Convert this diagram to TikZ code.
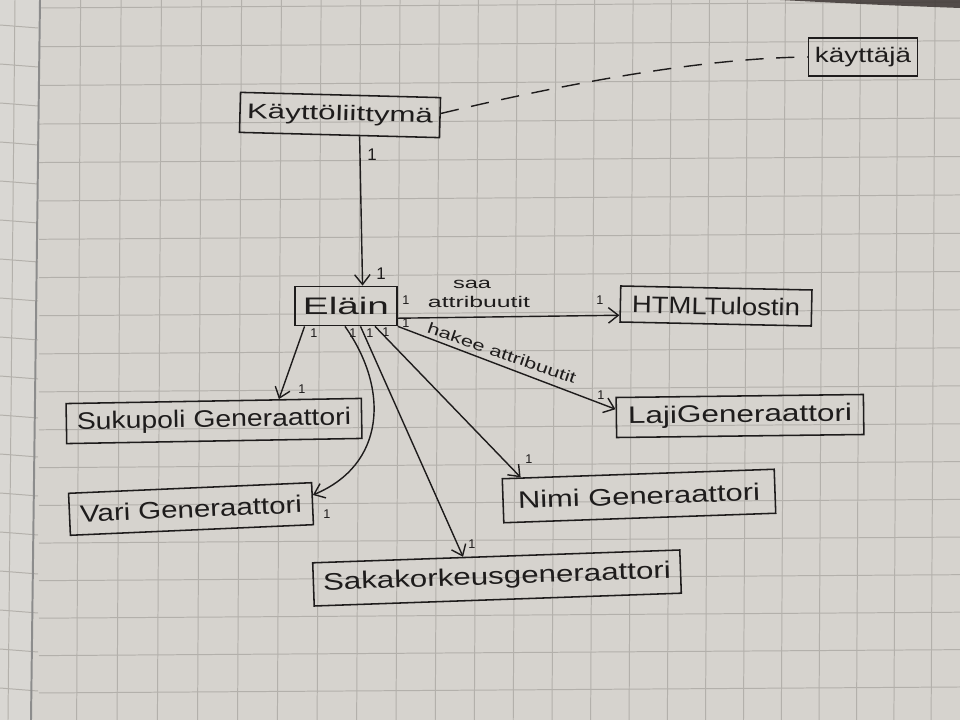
\documentclass[tikz,border=0pt]{standalone}
\usepackage{fontspec}
\setmainfont{Liberation Sans}
\usetikzlibrary{arrows.meta,calc}
\definecolor{paper}{HTML}{D6D3CE}
\definecolor{paperleft}{HTML}{D9D7D3}
\definecolor{gridline}{HTML}{B3B0AB}
\definecolor{ink}{HTML}{1E1C1C}
\definecolor{deskedge}{HTML}{3B3432}
% stretch a label horizontally to a given width, keeping its height
\newcommand{\fitw}[2]{\resizebox{#1}{\height}{#2}}

\begin{document}
\begin{tikzpicture}[x=0.025cm,y=-0.025cm,
  box/.style={draw=ink, line width=1.1pt, inner sep=0pt, text=ink,
              font=\fontsize{17}{17}\selectfont},
  assoc/.style={draw=ink, line width=1pt,
              -{Straight Barb[length=7pt,width=11pt,line width=1pt]}},
  mult/.style={text=ink, inner sep=0pt, font=\fontsize{9}{9}\selectfont},
  bigmult/.style={text=ink, inner sep=0pt, font=\fontsize{12}{12}\selectfont},
  role/.style={text=ink, inner sep=0pt, font=\fontsize{11}{11}\selectfont},
  gridrule/.style={draw=gridline, line width=0.7pt}]

\useasboundingbox (0,0) rectangle (960,720);

% squared notebook paper
\begin{scope}
  \clip (0,0) rectangle (960,720);
  \fill[paper] (0,0) rectangle (960,720);
  \fill[paperleft] (0,0) -- (40,0) -- (31,720) -- (0,720) -- cycle;
  \foreach \j in {-1,...,19}{
    \pgfmathsetmacro{\yy}{8+38.8*\j-0.0414*(\j)*(\j)}
    \draw[gridrule] (39,\yy) -- (960,\yy-6);
  }
  \foreach \i in {1,...,24}{
    \pgfmathsetmacro{\xx}{40+40.7*\i-0.0775*(\i)*(\i)}
    \draw[gridrule] (\xx,0) -- (\xx-4,720);
  }
  \foreach \j in {0,...,18}{
    \draw[gridrule] (0,25+39*\j) -- (38,28+39*\j);
  }
  \draw[gridrule] (15,0) -- (8,720);
  \draw[black!45, line width=1.4pt] (40,0) -- (31,720);
  % dark desk showing past the top edge of the sheet
  \fill[deskedge, opacity=0.85] (780,0) -- (960,0) -- (960,8) .. controls (880,5) .. (780,0) -- cycle;
\end{scope}

% classes
\node[box, font=\fontsize{15}{15}\selectfont, minimum width=5cm, minimum height=1cm, rotate=-1.5]
  (kl) at (340,115) {\fitw{4.65cm}{Käyttöliittymä}};
\node[box, font=\fontsize{15}{15}\selectfont, minimum width=2.72cm, minimum height=0.95cm]
  (ka) at (863,57) {\fitw{2.4cm}{käyttäjä}};
\node[box, minimum width=2.55cm, minimum height=0.98cm]
  (el) at (346,306) {\fitw{2.15cm}{Eläin}};
\node[box, minimum width=4.78cm, minimum height=0.9cm, rotate=-1.2]
  (html) at (716,306) {\fitw{4.2cm}{HTMLTulostin}};
\node[box, minimum width=6.18cm, minimum height=1cm, rotate=0.7]
  (laji) at (740,416) {\fitw{5.6cm}{LajiGeneraattori}};
\node[box, minimum width=7.38cm, minimum height=1cm, rotate=1]
  (suku) at (214,421) {\fitw{6.85cm}{Sukupoli Generaattori}};
\node[box, minimum width=6.08cm, minimum height=1.05cm, rotate=2.5]
  (vari) at (191,509) {\fitw{5.55cm}{Vari Generaattori}};
\node[box, minimum width=6.8cm, minimum height=1.1cm, rotate=2]
  (nimi) at (639,496) {\fitw{6.05cm}{Nimi Generaattori}};
\node[box, minimum width=9.18cm, minimum height=1.08cm, rotate=2]
  (saka) at (497,578) {\fitw{8.7cm}{Sakakorkeusgeneraattori}};

% user link
\draw[ink, line width=1pt, dash pattern=on 13pt off 9pt]
  ($(kl.north east)!0.4!(kl.south east)$) .. controls (560,85) and (700,58) .. (ka.west);

% associations
\draw[assoc] ($(kl.south west)!0.6!(kl.south east)$) -- ($(el.north west)!0.66!(el.north east)$);
\draw[assoc] ($(el.north east)!0.8!(el.south east)$) -- ($(html.north west)!0.8!(html.south west)$);
\draw[assoc] (el.south east) -- ($(laji.north west)!0.3!(laji.south west)$);
\draw[assoc] ($(el.south west)!0.1!(el.south east)$) -- ($(suku.north west)!0.72!(suku.north east)$);
\draw[assoc] ($(el.south west)!0.49!(el.south east)$) .. controls (390,390) and (385,465) ..
  ($(vari.north east)!0.3!(vari.south east)$);
\draw[assoc] ($(el.south west)!0.64!(el.south east)$) -- ($(saka.north west)!0.41!(saka.north east)$);
\draw[assoc] ($(el.south west)!0.78!(el.south east)$) -- ($(nimi.north west)!0.07!(nimi.north east)$);

% role names
\node[role] (saa) at (472,284) {\fitw{0.95cm}{saa}};
\node[role] (attr) at (479,302) {\fitw{2.55cm}{attribuutit}};
\node[role, rotate=-19] (hakee) at (502,353) {\fitw{3.9cm}{hakee attribuutit}};

% multiplicities
\node[bigmult] (m1) at (372,155) {1};
\node[bigmult] (m2) at (381,274) {1};
\node[mult] (m3) at (406,300) {1};
\node[mult] (m4) at (600,300) {1};
\node[mult] (m5) at (406,323) {1};
\node[mult] (m6) at (601,395) {1};
\node[mult] (m7) at (314,333) {1};
\node[mult] (m8) at (302,389) {1};
\node[mult] (m9) at (353,333) {1};
\node[mult] (m10) at (327,514) {1};
\node[mult] (m11) at (370,333) {1};
\node[mult] (m12) at (472,544) {1};
\node[mult] (m13) at (386,332) {1};
\node[mult] (m14) at (529,459) {1};
\end{tikzpicture}
\end{document}
